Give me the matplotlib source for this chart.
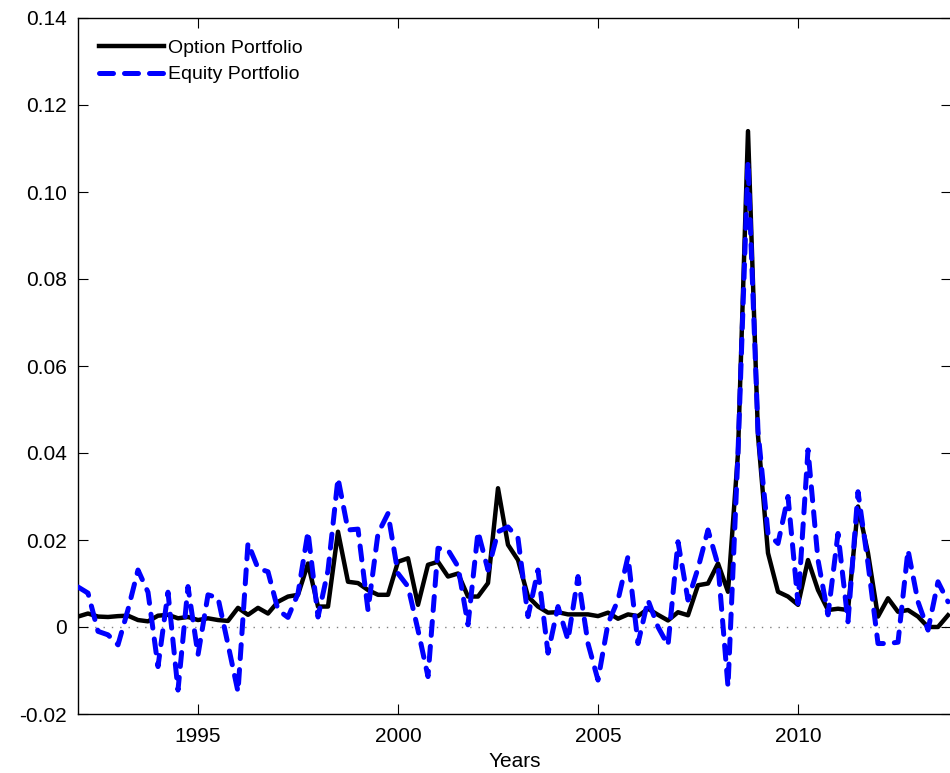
import numpy as np
import matplotlib
matplotlib.use("Agg")
import matplotlib.pyplot as plt

# quarterly observations starting 1992 Q1
START_YEAR = 1992
option_portfolio = [
    0.0024, 0.0031, 0.0024, 0.0023, 0.0025, 0.0026, 0.0016, 0.0013, 0.0026, 0.0028,
    0.0020, 0.0023, 0.0016, 0.0020, 0.0016, 0.0014, 0.0044, 0.0028, 0.0044, 0.0031,
    0.0058, 0.0070, 0.0074, 0.0146, 0.0047, 0.0047, 0.0219, 0.0104, 0.0101, 0.0085,
    0.0074, 0.0074, 0.0150, 0.0158, 0.0051, 0.0143, 0.0150, 0.0116, 0.0123, 0.0070,
    0.0070, 0.0101, 0.0319, 0.0189, 0.0154, 0.0070, 0.0047, 0.0033, 0.0034, 0.0029,
    0.0029, 0.0029, 0.0025, 0.0033, 0.0019, 0.0029, 0.0025, 0.0042,
    0.0028, 0.0015, 0.0034, 0.0027, 0.0096, 0.0100, 0.0146, 0.0081, 0.0400, 0.1140,
    0.0440, 0.0170, 0.0081, 0.0070, 0.0051, 0.0154, 0.0085, 0.0039, 0.0042, 0.0039,
    0.0277, 0.0170, 0.0024, 0.0066, 0.0035, 0.0039, 0.0024, 0.0000, 0.0000, 0.0027,
]
equity_portfolio = [
    0.0092, 0.0078, -0.0010, -0.0018, -0.0041, 0.0040, 0.0131, 0.0080, -0.0091, 0.0080,
    -0.0145, 0.0093, -0.0064, 0.0074, 0.0067, -0.0040, -0.0149, 0.0193, 0.0135, 0.0127,
    0.0039, 0.0022, 0.0077, 0.0219, 0.0023, 0.0130, 0.0342, 0.0223, 0.0225, 0.0039,
    0.0215, 0.0261, 0.0123, 0.0093, -0.0007, -0.0114, 0.0181, 0.0177, 0.0139, 0.0005,
    0.0219, 0.0131, 0.0219, 0.0230, 0.0204, 0.0024, 0.0131, -0.0060, 0.0047, -0.0030,
    0.0116, -0.0038, -0.0122, 0.0008, 0.0062, 0.0162, -0.0038, 0.0062, 0.0000, -0.0042,
    0.0196, 0.0062, 0.0135, 0.0223, 0.0143, -0.0137, 0.0400, 0.1070, 0.0450, 0.0215,
    0.0192, 0.0300, 0.0054, 0.0407, 0.0154, 0.0028, 0.0215, 0.0012, 0.0311, 0.0146,
    -0.0038, -0.0038, -0.0035, 0.0177, 0.0058, -0.0007, 0.0104, 0.0058,
]
xticks = [1995, 2000, 2005, 2010]
yticks = [-0.02, 0, 0.02, 0.04, 0.06, 0.08, 0.10, 0.12, 0.14]
ytick_labels = ["-0.02", "0", "0.02", "0.04", "0.06", "0.08", "0.10", "0.12", "0.14"]

years = START_YEAR + 0.25 * np.arange(len(option_portfolio))

plt.rcParams["font.family"] = ["Liberation Sans", "DejaVu Sans"]

fig = plt.figure(figsize=(9.5, 7.73), dpi=100)
ax = fig.add_axes([78 / 950, 59 / 773, 873 / 950, 696 / 773])

ax.axhline(0, color="#808080", linestyle=(0, (1, 5)), linewidth=1.0, zorder=1)
ax.plot(years, option_portfolio, color="black", linewidth=3.2,
        solid_joinstyle="round", label="Option Portfolio", zorder=2)
ax.plot(years, equity_portfolio, color="#0000ff", linewidth=3.6,
        linestyle=(0, (2.8, 2.2)), dash_capstyle="round",
        label="Equity Portfolio", zorder=3)

ax.set_xlim(START_YEAR, START_YEAR + 873 / 40)
ax.set_ylim(-0.02, 0.14)
ax.set_xticks(xticks)
ax.set_xticklabels([str(t) for t in xticks])
ax.set_yticks(yticks)
ax.set_yticklabels(ytick_labels)
ax.tick_params(direction="in", length=7, width=0.8, top=True, right=True,
               labelsize=15)
ax.tick_params(axis="x", pad=9)
ax.tick_params(axis="y", pad=8)
for s in ax.spines.values():
    s.set_linewidth(1.0)

ax.set_xlabel("Years", fontsize=15, labelpad=5)

ax.legend(loc="upper left", frameon=False, fontsize=14, handlelength=3.3,
          handletextpad=0.25, labelspacing=0.45, borderaxespad=0.7,
          bbox_to_anchor=(0.0, 1.0))

fig.savefig("out.png", dpi=100)
